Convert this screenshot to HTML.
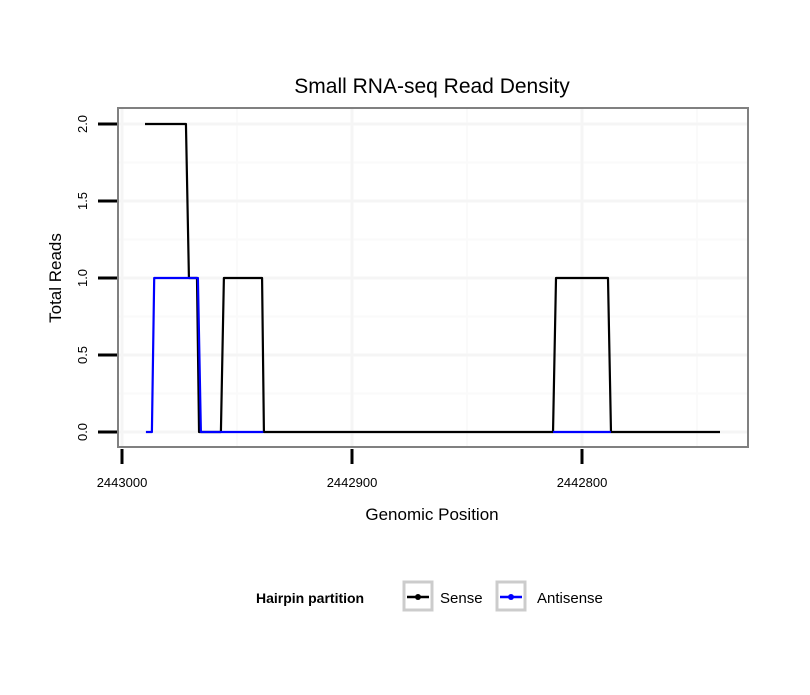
<!DOCTYPE html>
<html><head><meta charset="utf-8"><style>
body{margin:0;background:#fff;}
svg text{font-family:"Liberation Sans",Arial,sans-serif;}
</style></head><body>
<svg id="chart" width="810" height="690" xmlns="http://www.w3.org/2000/svg">
<text x="432" y="93" font-size="21" text-anchor="middle">Small RNA-seq Read Density</text>
<g id="grid"></g>
<g id="series"></g>
<rect x="118" y="108" width="630" height="339" fill="none" stroke="#808080" stroke-width="2"/>
<g id="axes"></g>
<text x="432" y="520" font-size="17" text-anchor="middle">Genomic Position</text>
<text transform="translate(61,278) rotate(-90)" font-size="17" text-anchor="middle">Total Reads</text>
<g>
<text x="256" y="603" font-size="14" font-weight="bold">Hairpin partition</text>
<g>
<rect x="404" y="582" width="28" height="28" fill="#fff" stroke="#ccc" stroke-width="3"/>
<line x1="407" y1="597" x2="429" y2="597" stroke="#000" stroke-width="2.5"/><circle cx="418" cy="597" r="3" fill="#000"/>
<text x="440" y="603" font-size="15">Sense</text></g>
<g>
<rect x="497" y="582" width="28" height="28" fill="#fff" stroke="#ccc" stroke-width="3"/>
<line x1="500" y1="597" x2="522" y2="597" stroke="#00f" stroke-width="2.5"/><circle cx="511" cy="597" r="3" fill="#00f"/>
<text x="537" y="603" font-size="15">Antisense</text></g>
</g>
</svg>
<script>
const senseX=[2442990,2442972.2,2442970.9,2442967.4,2442966.5,2442957,2442955.7,2442939.1,2442938.3,2442812.6,2442811.3,2442788.7,2442787.4,2442740];
const senseY=[2,2,1,1,0,0,1,1,0,0,1,1,0,0];
const antiX=[2442989.6,2442987,2442986,2442967,2442965.7,2442938.6];
const antiY=[0,0,1,1,0,0];
const anti2X=[2442812.6,2442787.4];
const anti2Y=[0,0];
const xTicks=[2443000,2442900,2442800];
const xMinor=[2442950,2442850,2442750];
const yTicks=[0,0.5,1,1.5,2];
const yLabels=["0.0","0.5","1.0","1.5","2.0"];
const xs=v=>122+(2443000-v)*2.3;
const ys=v=>432-v*154;
const NS="http://www.w3.org/2000/svg";
function mk(tag,attrs,parent){const e=document.createElementNS(NS,tag);for(const k in attrs)e.setAttribute(k,attrs[k]);parent.appendChild(e);return e;}
const grid=document.getElementById('grid'),axes=document.getElementById('axes'),ser=document.getElementById('series');
xMinor.forEach(v=>{const l=mk('line',{x1:xs(v),x2:xs(v),y1:108,y2:447,stroke:'#fafafa','stroke-width':2},grid);

});
for(let i=0;i<yTicks.length-1;i++){const v=(yTicks[i]+yTicks[i+1])/2;const l=mk('line',{x1:118,x2:748,y1:ys(v),y2:ys(v),stroke:'#fafafa','stroke-width':2},grid);

}
xTicks.forEach(v=>{const l=mk('line',{x1:xs(v),x2:xs(v),y1:108,y2:447,stroke:'#f5f5f5','stroke-width':3},grid);


const t=mk('line',{x1:xs(v),x2:xs(v),y1:449,y2:464,stroke:'#000','stroke-width':3},axes);


const tx=mk('text',{x:xs(v),y:487,'font-size':13,'text-anchor':'middle'},axes);tx.textContent=v;

});
yTicks.forEach((v,i)=>{const l=mk('line',{x1:118,x2:748,y1:ys(v),y2:ys(v),stroke:'#f5f5f5','stroke-width':3},grid);


const t=mk('line',{x1:98,x2:117,y1:ys(v),y2:ys(v),stroke:'#000','stroke-width':3},axes);


const tx=mk('text',{transform:`translate(87,${ys(v)}) rotate(-90)`,'font-size':13,'text-anchor':'middle'},axes);tx.textContent=yLabels[i];

});
function line(X,Y,c,name){const p=mk('polyline',{points:X.map((x,i)=>xs(x)+','+ys(Y[i])).join(' '),fill:'none',stroke:c,'stroke-width':2.2,'stroke-linejoin':'round'},ser);

}
line(senseX,senseY,'#000','sense-line');
line(antiX,antiY,'#00f','antisense-line');
line(anti2X,anti2Y,'#00f','antisense-line-2');
</script>
</body></html>
